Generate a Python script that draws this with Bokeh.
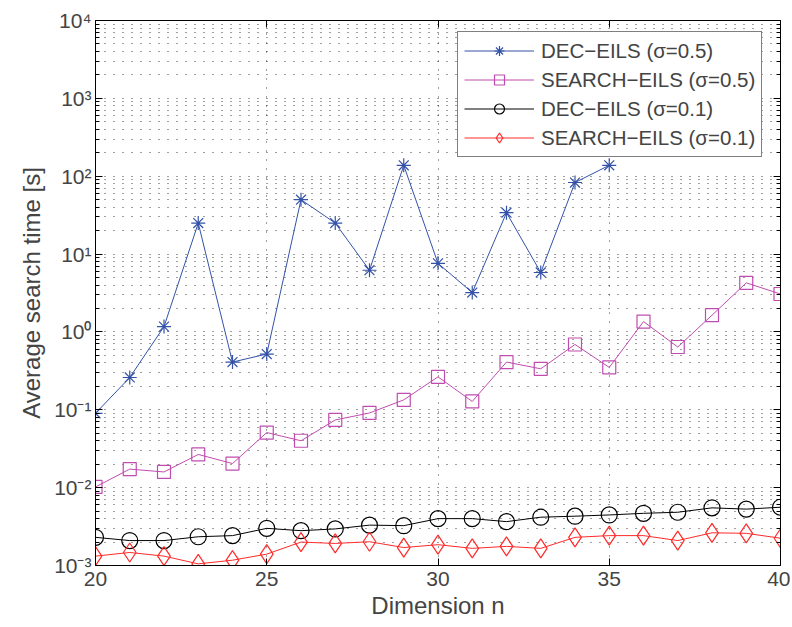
from bokeh.plotting import figure
from bokeh.models import (LogAxis, LinearAxis, FixedTicker, Legend, LegendItem,
                          Range1d)
from bokeh.embed import file_html
from bokeh.resources import INLINE

# ---- data ----
dims = list(range(20, 41))
dims_dec05 = list(range(20, 36))
dec_eils_05 = [0.09, 0.26, 1.17, 25, 0.41, 0.52, 50, 25, 6.2, 138,
               7.6, 3.2, 34, 5.8, 83, 138]
search_eils_05 = [0.0102, 0.0173, 0.0159, 0.0267, 0.0204, 0.051, 0.040, 0.074,
                  0.091, 0.134, 0.265, 0.128, 0.41, 0.336, 0.69, 0.35, 1.36,
                  0.64, 1.64, 4.27, 3.07]
dec_eils_01 = [0.0023, 0.00209, 0.00209, 0.00234, 0.00242, 0.0030, 0.0028,
               0.00295, 0.0033, 0.00325, 0.0040, 0.0040, 0.00366, 0.00417,
               0.0043, 0.00446, 0.00468, 0.00483, 0.0055, 0.0053, 0.0056]
search_eils_01 = [0.00132, 0.00147, 0.00132, 0.00105, 0.00117, 0.0014, 0.0020,
                  0.00192, 0.00202, 0.0017, 0.00185, 0.00166, 0.00176, 0.00166,
                  0.0023, 0.00242, 0.00242, 0.00209, 0.00263, 0.00259, 0.00224]

labels = ["DEC\u2212EILS (\u03c3=0.5)", "SEARCH\u2212EILS (\u03c3=0.5)",
          "DEC\u2212EILS (\u03c3=0.1)", "SEARCH\u2212EILS (\u03c3=0.1)"]

x_ticks = [20, 25, 30, 35, 40]
y_exponents = [-3, -2, -1, 0, 1, 2, 3, 4]
y_tick_labels = ["10\u207b\u00b3", "10\u207b\u00b2", "10\u207b\u00b9", "10\u2070",
                 "10\u00b9", "10\u00b2", "10\u00b3", "10\u2074"]

y_ticks = [10.0 ** e for e in y_exponents]
y_minor = [k * 10.0 ** e for e in y_exponents[:-1] for k in range(2, 10)]

FONT = "Liberation Sans"
BLUE = "#3352A8"
MAGENTA = "#C04CB0"
BLACK = "#000000"
RED = "#FF2A2A"

p = figure(width=790, height=625, y_axis_type="log",
           x_range=Range1d(20, 40), y_range=Range1d(1e-3, 1e4),
           output_backend="svg", toolbar_location=None,
           min_border_left=95, min_border_right=10, min_border_top=20,
           min_border_bottom=60)
p.outline_line_color = None
p.background_fill_color = "white"

# grid
p.xaxis.ticker = FixedTicker(ticks=x_ticks, minor_ticks=[])
p.yaxis.ticker = FixedTicker(ticks=y_ticks, minor_ticks=y_minor)
for g in (p.xgrid, p.ygrid):
    g.grid_line_color = "black"
    g.grid_line_dash = "1 8"
    g.grid_line_alpha = 0.75
p.ygrid.minor_grid_line_color = "black"
p.ygrid.minor_grid_line_dash = "1 8"
p.ygrid.minor_grid_line_alpha = 0.75

overrides = {t: lab for t, lab in zip(y_ticks, y_tick_labels)}

for ax in p.xaxis:
    ax.axis_label = "Dimension n"
    ax.axis_label_text_font = FONT
    ax.axis_label_text_font_size = "24px"
    ax.axis_label_text_font_style = "normal"
    ax.axis_label_standoff = 3
    ax.major_label_text_font = FONT
    ax.major_label_text_font_size = "21px"
    ax.major_label_standoff = 6
    ax.major_tick_in = 7
    ax.major_tick_out = 0
    ax.axis_line_color = "black"
    ax.major_tick_line_color = "black"

for ax in p.yaxis:
    ax.axis_label = "Average search time [s]"
    ax.axis_label_text_font = FONT
    ax.axis_label_text_font_size = "24px"
    ax.axis_label_text_font_style = "normal"
    ax.axis_label_standoff = 6
    ax.major_label_text_font = FONT
    ax.major_label_text_font_size = "21px"
    ax.major_label_standoff = 4
    ax.major_label_overrides = overrides
    ax.major_tick_in = 7
    ax.major_tick_out = 0
    ax.minor_tick_in = 4
    ax.minor_tick_out = 0
    ax.axis_line_color = "black"
    ax.major_tick_line_color = "black"
    ax.minor_tick_line_color = "black"

# box axes (right and top), ticks only
ra = LogAxis(ticker=FixedTicker(ticks=y_ticks, minor_ticks=y_minor))
ra.major_label_text_font_size = "1px"
ra.major_label_text_color = None
ra.major_label_standoff = 0
ra.major_tick_in = 7
ra.major_tick_out = 0
ra.minor_tick_in = 4
ra.minor_tick_out = 0
ra.axis_line_color = "black"
p.add_layout(ra, "right")

ta = LinearAxis(ticker=FixedTicker(ticks=x_ticks, minor_ticks=[]))
ta.major_label_text_font_size = "1px"
ta.major_label_text_color = None
ta.major_label_standoff = 0
ta.major_tick_in = 7
ta.major_tick_out = 0
ta.axis_line_color = "black"
p.add_layout(ta, "above")

# series
l1 = p.line(dims_dec05, dec_eils_05, line_color=BLUE, line_width=1)
m1 = p.scatter(dims_dec05, dec_eils_05, marker="asterisk", size=14,
               line_color=BLUE, line_width=1.2)
l2 = p.line(dims, search_eils_05, line_color=MAGENTA, line_width=1)
m2 = p.scatter(dims, search_eils_05, marker="square", size=13,
               line_color=MAGENTA, fill_color=None, line_width=1.2)
l3 = p.line(dims, dec_eils_01, line_color=BLACK, line_width=1)
m3 = p.scatter(dims, dec_eils_01, marker="circle", size=16,
               line_color=BLACK, fill_color=None, line_width=1.2)
l4 = p.line(dims, search_eils_01, line_color=RED, line_width=1)
m4 = p.scatter(dims, search_eils_01, marker="diamond", size=19,
               line_color=RED, fill_color=None, line_width=1.2)

items = [LegendItem(label=labels[0], renderers=[l1, m1]),
         LegendItem(label=labels[1], renderers=[l2, m2]),
         LegendItem(label=labels[2], renderers=[l3, m3]),
         LegendItem(label=labels[3], renderers=[l4, m4])]
legend = Legend(items=items, location=(362, 408))
legend.label_text_font = FONT
legend.label_text_font_size = "20.5px"
legend.glyph_width = 70
legend.glyph_height = 25
legend.label_height = 25
legend.spacing = 4
legend.padding = 6
legend.label_standoff = 7
legend.border_line_color = "black"
legend.border_line_width = 1
legend.background_fill_color = "white"
legend.background_fill_alpha = 1.0
legend.margin = 0
p.add_layout(legend, "center")

open("out.html", "w").write(file_html(p, INLINE))
